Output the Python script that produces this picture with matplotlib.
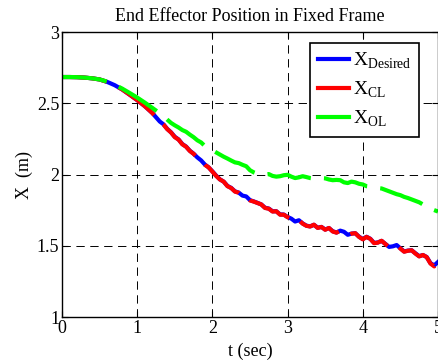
import matplotlib
matplotlib.use('Agg')
import matplotlib.pyplot as plt

plt.rcParams['font.family'] = ['Liberation Serif', 'DejaVu Serif']
plt.rcParams['mathtext.fontset'] = 'custom'
plt.rcParams['mathtext.rm'] = 'Liberation Serif'
plt.rcParams['lines.scale_dashes'] = False

# time axis shared by the trajectories (sec)
t = [0.0, 0.1, 0.2, 0.3, 0.4, 0.5, 0.6, 0.7, 0.8, 0.9, 1.0, 1.1, 1.2, 1.3,
     1.35, 1.4, 1.45, 1.5, 1.55, 1.6, 1.65, 1.7, 1.75, 1.8, 1.85, 1.9, 1.95,
     2.0, 2.05, 2.1, 2.15, 2.2, 2.25, 2.3, 2.35, 2.4, 2.45, 2.5, 2.55, 2.6,
     2.65, 2.7, 2.75, 2.8, 2.85, 2.9, 2.95, 3.0, 3.05, 3.1, 3.15, 3.2, 3.25,
     3.3, 3.35, 3.4, 3.45, 3.5, 3.55, 3.6, 3.65, 3.7, 3.75, 3.8, 3.85, 3.9,
     3.95, 4.0, 4.05, 4.1, 4.15, 4.2, 4.25, 4.3, 4.35, 4.4, 4.45, 4.5, 4.55,
     4.6, 4.65, 4.7, 4.75, 4.8, 4.85, 4.9, 4.95, 5.0]

x_desired = [2.684, 2.684, 2.683, 2.680, 2.675, 2.667, 2.650, 2.627, 2.597,
             2.560, 2.522, 2.480, 2.432, 2.372, 2.352, 2.320, 2.296, 2.265,
             2.246, 2.214, 2.196, 2.167, 2.146, 2.120, 2.099, 2.070, 2.050,
             2.022, 1.992, 1.966, 1.950, 1.920, 1.906, 1.882, 1.873, 1.852,
             1.846, 1.820, 1.811, 1.801, 1.790, 1.767, 1.761, 1.742, 1.742,
             1.720, 1.719, 1.702, 1.690, 1.670, 1.679, 1.657, 1.641, 1.636,
             1.647, 1.627, 1.632, 1.614, 1.624, 1.602, 1.593, 1.606, 1.598,
             1.577, 1.585, 1.588, 1.564, 1.547, 1.563, 1.549, 1.520, 1.523,
             1.534, 1.513, 1.492, 1.496, 1.505, 1.482, 1.460, 1.466, 1.468,
             1.447, 1.427, 1.435, 1.421, 1.378, 1.362, 1.386]

x_cl = [2.684, 2.684, 2.683, 2.680, 2.675, 2.667, 2.650, 2.627, 2.597, 2.560,
        2.522, 2.480, 2.432, 2.372, 2.350, 2.318, 2.295, 2.262, 2.245, 2.212,
        2.195, 2.165, 2.145, 2.118, 2.098, 2.068, 2.050, 2.020, 1.990, 1.965,
        1.950, 1.918, 1.905, 1.880, 1.872, 1.850, 1.845, 1.818, 1.810, 1.800,
        1.790, 1.765, 1.760, 1.740, 1.742, 1.718, 1.718, 1.700, 1.690, 1.668,
        1.680, 1.655, 1.640, 1.635, 1.648, 1.625, 1.632, 1.612, 1.625, 1.600,
        1.592, 1.605, 1.598, 1.575, 1.585, 1.588, 1.562, 1.545, 1.562, 1.548,
        1.518, 1.522, 1.535, 1.512, 1.490, 1.495, 1.505, 1.480, 1.458, 1.465,
        1.468, 1.445, 1.425, 1.435, 1.420, 1.375, 1.355, 1.388]

x_ol = [2.684, 2.684, 2.683, 2.680, 2.675, 2.667, 2.652, 2.630, 2.603, 2.572,
        2.540, 2.505, 2.468, 2.430, 2.410, 2.385, 2.362, 2.345, 2.330, 2.312,
        2.300, 2.280, 2.262, 2.240, 2.225, 2.200, 2.184, 2.170, 2.155, 2.140,
        2.125, 2.112, 2.098, 2.085, 2.080, 2.068, 2.058, 2.030, 2.015, 2.005,
        2.000, 2.000, 2.003, 1.990, 1.985, 1.988, 1.995, 1.998, 1.985, 1.975,
        1.980, 1.988, 1.982, 1.975, 1.972, 1.972, 1.975, 1.973, 1.965, 1.960,
        1.962, 1.960, 1.945, 1.940, 1.950, 1.945, 1.935, 1.930, 1.918, 1.915,
        1.910, 1.905, 1.902, 1.892, 1.882, 1.872, 1.862, 1.855, 1.843, 1.835,
        1.825, 1.815, 1.805, 1.790, 1.775, 1.760, 1.750, 1.740]

fig = plt.figure(figsize=(4.39, 3.62), dpi=100)
ax = fig.add_axes([0.1412, 0.1243, 0.8565, 0.7873])

dash = (32.5, 9.5)
ax.plot(t, x_desired, color='#0000ff', lw=3, label='X$_{\\rm Desired}$')
ax.plot(t, x_cl, color='#ff0000', lw=3, dashes=dash, label='X$_{\\rm CL}$')
ax.plot(t, x_ol, color='#00ff00', lw=3, dashes=dash, label='X$_{\\rm OL}$')

ax.set_xlim(0, 5)
ax.set_ylim(1, 3)
ax.set_xticks([0, 1, 2, 3, 4, 5])
ax.set_yticks([1, 1.5, 2, 2.5, 3])
ax.set_yticklabels(['1', '1.5', '2', '2.5', '3'])
ax.tick_params(direction='in', top=True, right=True, labelsize=13, length=4, pad=2)
ax.grid(True, color='black', linestyle=(0, (6, 4)), linewidth=0.7)
for s in ax.spines.values():
    s.set_linewidth(1.0)

ax.set_title('End Effector Position in Fixed Frame', fontsize=13, pad=8)
ax.set_xlabel('t (sec)', fontsize=13, labelpad=4)
ax.set_ylabel('X  (m)', fontsize=13, labelpad=3)

leg = ax.legend(loc='upper right', bbox_to_anchor=(0.95, 0.962), borderaxespad=0,
                fontsize=14, handlelength=1.6, handletextpad=0.2, labelspacing=0.45,
                fancybox=False, framealpha=1, edgecolor='black', borderpad=0.4)
leg.get_frame().set_linewidth(1.2)
for h in leg.get_lines():
    h.set_linestyle('-')

fig.savefig('out.png', dpi=100)
